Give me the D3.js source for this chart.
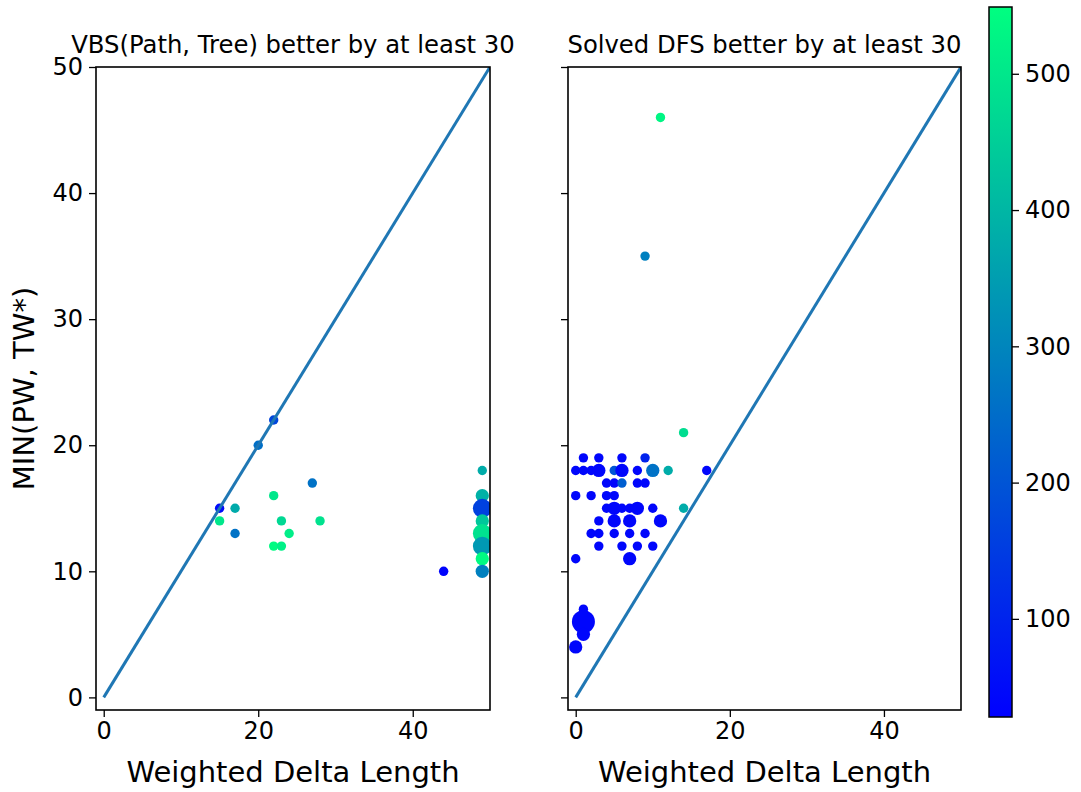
<!DOCTYPE html>
<html>
<head>
<meta charset="utf-8">
<script src="https://cdn.jsdelivr.net/npm/d3@7"></script>
<style>
  body { margin: 0; background: #fff; }
  text { font-family: "DejaVu Sans", sans-serif; fill: #000; }
</style>
</head>
<body>
<div id="chart"></div>
<script>
// left panel: VBS(Path, Tree) better by at least 30
const leftX = [22, 20, 27, 22, 15, 17, 15, 23, 28, 17, 24, 22, 23, 44, 49, 49, 49, 49, 49, 49, 49, 49];
const leftY = [22, 20, 17, 16, 15, 15, 14, 14, 14, 13, 13, 12, 12, 10, 18, 16, 15, 14, 13, 12, 11, 10];
const leftC = [170, 255, 260, 500, 50, 375, 500, 470, 490, 260, 515, 540, 520, 35, 380, 390, 160, 435, 487, 340, 540, 290];
const leftN = [1, 1, 1, 1, 1, 1, 1, 1, 1, 1, 1, 1, 1, 1, 1, 2, 4, 2, 4, 4, 2, 2];

// right panel: Solved DFS better by at least 30
const rightX = [11, 9, 14,
  1, 3, 6, 9,
  0, 1, 2, 3, 5, 6, 8, 10, 12, 17,
  4, 5, 6, 8, 9,
  0, 2, 4, 5,
  4, 5, 6, 7, 8, 10, 14,
  3, 5, 7, 11,
  2, 3, 5, 7, 9,
  3, 6, 8, 10,
  0, 7,
  1, 1, 1, 0];
const rightY = [46, 35, 21,
  19, 19, 19, 19,
  18, 18, 18, 18, 18, 18, 18, 18, 18, 18,
  17, 17, 17, 17, 17,
  16, 16, 16, 16,
  15, 15, 15, 15, 15, 15, 15,
  14, 14, 14, 14,
  13, 13, 13, 13, 13,
  12, 12, 12, 12,
  11, 11,
  7, 6, 5, 4];
const rightC = [530, 290, 480,
  40, 40, 40, 100,
  40, 40, 40, 40, 200, 40, 40, 260, 380, 40,
  40, 40, 220, 40, 40,
  40, 40, 40, 40,
  40, 40, 40, 40, 40, 40, 380,
  40, 40, 40, 40,
  40, 40, 40, 40, 40,
  40, 40, 40, 40,
  40, 40,
  40, 40, 40, 40];
const rightN = [1, 1, 1,
  1, 1, 1, 1,
  1, 1, 1, 2, 1, 2, 1, 2, 1, 1,
  1, 1, 1, 1, 1,
  1, 1, 1, 1,
  1, 2, 1, 1, 2, 1, 1,
  1, 2, 2, 2,
  1, 1, 1, 1, 1,
  1, 1, 1, 1,
  1, 2,
  1, 6, 2, 2];

const xTicks = [0, 20, 40];
const yTicks = [0, 10, 20, 30, 40, 50];
const cTicks = [100, 200, 300, 400, 500];
const cRange = [28, 549];
const diag = [0, 50];

const W = 1081, H = 792;
const plotTop = 67, plotBottom = 710;
const tickFont = "24px", titleFont = "24.3px", labelFont = "29px";

const svg = d3.select("#chart")
    .append("svg")
    .attr("width", W)
    .attr("height", H);

// winter colormap
const winter = t => d3.rgb(0, Math.round(255 * t), Math.round(255 * (1 - 0.5 * t))).formatHex();
const color = d3.scaleSequential(winter).domain(cRange);
const radius = d3.scaleSqrt().domain([0, 1]).range([0, 4.7]);

const y = d3.scaleLinear().domain([-1, 50]).range([plotBottom, plotTop]);

function panel(id, x0, x1, xs, ys, cs, ns, title, showYLabels) {
    const x = d3.scaleLinear().domain([-1, 50]).range([x0, x1]);
    const pts = xs.map((d, i) => ({ x: d, y: ys[i], c: cs[i], n: ns[i] }));

    svg.append("clipPath").attr("id", "clip_" + id)
        .append("rect")
        .attr("x", x0).attr("y", plotTop)
        .attr("width", x1 - x0).attr("height", plotBottom - plotTop);

    const g = svg.append("g").attr("clip-path", "url(#clip_" + id + ")");

    g.selectAll("circle")
        .data(pts)
        .enter()
        .append("circle")
        .attr("cx", d => x(d.x))
        .attr("cy", d => y(d.y))
        .attr("r", d => radius(d.n))
        .attr("fill", d => color(d.c));

    g.append("line")
        .attr("x1", x(diag[0])).attr("y1", y(diag[0]))
        .attr("x2", x(diag[1])).attr("y2", y(diag[1]))
        .attr("stroke", "#1f77b4")
        .attr("stroke-width", 3);

    const xAxis = svg.append("g")
        .attr("transform", "translate(0," + plotBottom + ")")
        .call(d3.axisBottom(x).tickValues(xTicks).tickSize(7).tickPadding(5));
    const yAxis = svg.append("g")
        .attr("transform", "translate(" + x0 + ",0)")
        .call(d3.axisLeft(y).tickValues(yTicks).tickSize(7).tickPadding(6)
            .tickFormat(showYLabels ? d3.format("d") : ""));

    [xAxis, yAxis].forEach(a => {
        a.select(".domain").remove();
        a.selectAll("line").attr("stroke", "#000").attr("stroke-width", 1.3);
        a.selectAll("text").style("font-size", tickFont).style("font-family", "DejaVu Sans");
    });

    svg.append("rect")
        .attr("x", x0).attr("y", plotTop)
        .attr("width", x1 - x0).attr("height", plotBottom - plotTop)
        .attr("fill", "none")
        .attr("stroke", "#000")
        .attr("stroke-width", 1.6);

    svg.append("text")
        .attr("x", (x0 + x1) / 2).attr("y", 53)
        .attr("text-anchor", "middle")
        .style("font-size", titleFont)
        .text(title);

    svg.append("text")
        .attr("x", (x0 + x1) / 2).attr("y", 782)
        .attr("text-anchor", "middle")
        .style("font-size", labelFont)
        .text("Weighted Delta Length");
}

panel("l", 96, 490, leftX, leftY, leftC, leftN, "VBS(Path, Tree) better by at least 30", true);
panel("r", 568, 961, rightX, rightY, rightC, rightN, "Solved DFS better by at least 30", false);

svg.append("text")
    .attr("transform", "translate(34," + (plotTop + plotBottom) / 2 + ") rotate(-90)")
    .attr("text-anchor", "middle")
    .style("font-size", labelFont)
    .text("MIN(PW, TW*)");

// colorbar
const cb = { x: 989, w: 23, y0: 7, y1: 717 };
const grad = svg.append("defs").append("linearGradient")
    .attr("id", "cbGrad")
    .attr("x1", "0%").attr("y1", "100%")
    .attr("x2", "0%").attr("y2", "0%");
d3.range(0, 1.0001, 0.1).forEach(t => {
    grad.append("stop").attr("offset", (t * 100) + "%").attr("stop-color", winter(t));
});
svg.append("rect")
    .attr("x", cb.x).attr("y", cb.y0)
    .attr("width", cb.w).attr("height", cb.y1 - cb.y0)
    .attr("fill", "url(#cbGrad)")
    .attr("stroke", "#000")
    .attr("stroke-width", 1.5);

const cScale = d3.scaleLinear().domain(cRange).range([cb.y1, cb.y0]);
const cAxis = svg.append("g")
    .attr("transform", "translate(" + (cb.x + cb.w) + ",0)")
    .call(d3.axisRight(cScale).tickValues(cTicks).tickSize(7).tickPadding(6));
cAxis.select(".domain").remove();
cAxis.selectAll("line").attr("stroke", "#000").attr("stroke-width", 1.3);
cAxis.selectAll("text").style("font-size", tickFont).style("font-family", "DejaVu Sans");
</script>
</body>
</html>
